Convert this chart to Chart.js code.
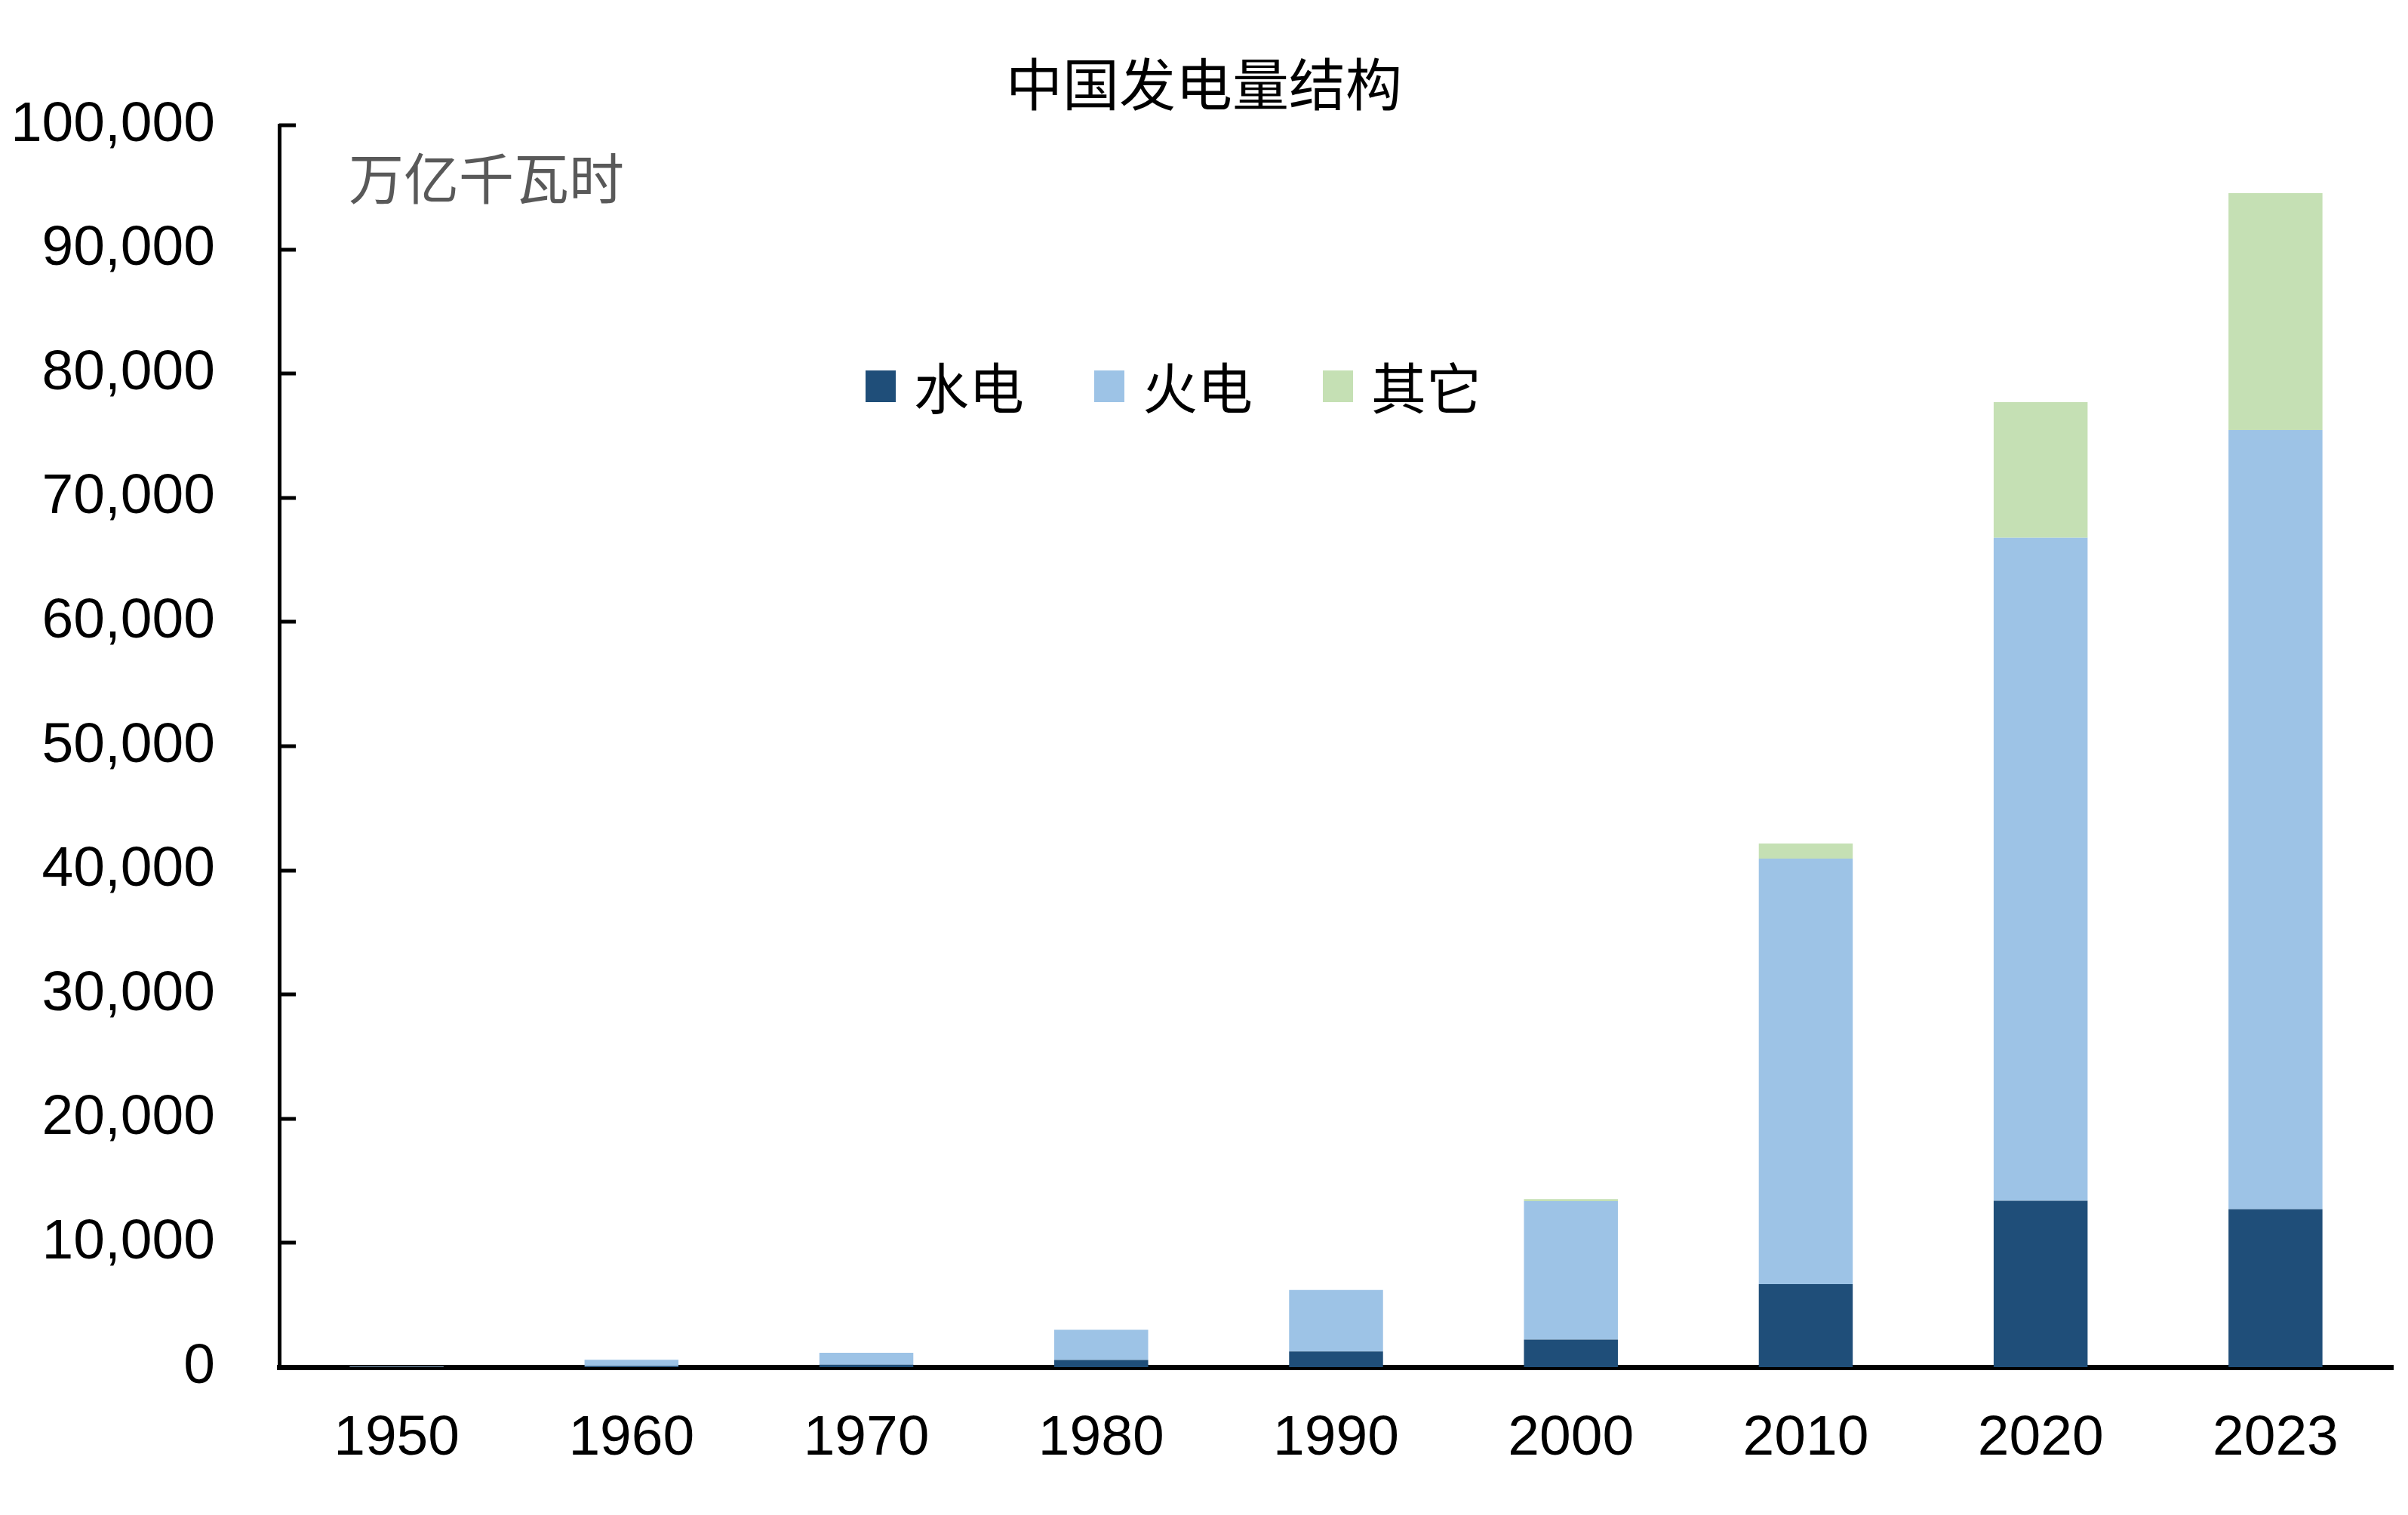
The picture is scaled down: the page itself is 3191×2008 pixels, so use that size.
<!DOCTYPE html>
<html>
<head>
<meta charset="utf-8">
<script src="https://cdn.jsdelivr.net/npm/chart.js@4.4.1/dist/chart.umd.min.js"></script>
<style>
  html, body { margin: 0; padding: 0; background: #fff; }
</style>
</head>
<body>
<canvas id="genChart" width="3191" height="2008"></canvas>
<script>
// Data (亿千瓦时)
const years = ['1950', '1960', '1970', '1980', '1990', '2000', '2010', '2020', '2023'];
const hydro = [7, 74, 205, 582, 1267, 2224, 6680, 13400, 12720];
const thermal = [39, 520, 954, 2424, 4945, 11142, 34270, 53380, 62740];
const other = [0, 0, 0, 0, 0, 170, 1210, 10930, 19070];
const seriesNames = ['水电', '火电', '其它'];
const seriesColors = ['#1F4E79', '#9DC3E6', '#C5E0B4'];
const chartTitle = '中国发电量结构';
const unitLabel = '万亿千瓦时';

const cjkFont = '"Noto Sans CJK SC", sans-serif';
const numFont = '"Liberation Sans", Arial, sans-serif';

// Draws the inner tick marks, the unit label and the legend inside the plot
const overlayPlugin = {
  id: 'overlay',
  afterDraw(chart) {
    const ctx = chart.ctx;
    const area = chart.chartArea;
    const yScale = chart.scales.y;
    ctx.save();

    // tick marks pointing into the plot
    ctx.strokeStyle = '#000';
    ctx.lineWidth = 5;
    yScale.ticks.forEach((t) => {
      const py = Math.round(yScale.getPixelForValue(t.value));
      ctx.beginPath();
      ctx.moveTo(area.left, py);
      ctx.lineTo(area.left + 22, py);
      ctx.stroke();
    });

    // unit label
    ctx.font = '73px ' + cjkFont;
    ctx.textBaseline = 'middle';
    ctx.textAlign = 'left';
    ctx.fillStyle = '#595959';
    ctx.fillText(unitLabel, area.left + 92, area.top + 70);

    // legend
    let x = area.left + 777;
    const ly = area.top + 346;
    chart.data.datasets.forEach((ds) => {
      ctx.fillStyle = ds.backgroundColor;
      ctx.fillRect(x, ly - 21, 40, 42);
      ctx.fillStyle = '#000';
      ctx.fillText(ds.label, x + 64, ly + 2);
      x += 303;
    });

    ctx.restore();
  }
};

const chartConfig = {
  type: 'bar',
  data: {
    labels: years,
    datasets: [
      { label: seriesNames[0], data: hydro, backgroundColor: seriesColors[0] },
      { label: seriesNames[1], data: thermal, backgroundColor: seriesColors[1] },
      { label: seriesNames[2], data: other, backgroundColor: seriesColors[2] },
    ]
  },
  options: {
    responsive: false,
    animation: false,
    devicePixelRatio: 1,
    layout: {
      padding: { left: 20, right: 20, top: 0, bottom: 0 }
    },
    datasets: {
      bar: { barPercentage: 0.4, categoryPercentage: 1.0, borderWidth: 0 }
    },
    plugins: {
      legend: { display: false },
      tooltip: { enabled: false },
      title: {
        display: true,
        text: chartTitle,
        color: '#000',
        font: { family: cjkFont, size: 75, weight: 'normal' },
        padding: { top: 66, bottom: 10 },
      },
    },
    scales: {
      x: {
        stacked: true,
        grid: { display: false, drawTicks: false },
        border: { display: true, color: '#000', width: 7 },
        ticks: {
          color: '#000',
          font: { family: numFont, size: 75 },
          padding: 50,
        },
        afterFit(scale) { scale.height = 196; },
      },
      y: {
        stacked: true,
        min: 0,
        max: 100000,
        grid: { display: false, drawTicks: false },
        border: { display: true, color: '#000', width: 5 },
        ticks: {
          stepSize: 10000,
          color: '#000',
          font: { family: numFont, size: 75 },
          padding: 85,
        },
        afterFit(scale) { scale.width = 350; },
      },
    },
  },
  plugins: [overlayPlugin],
};

const chart = new Chart(document.getElementById('genChart'), chartConfig);
</script>
</body>
</html>
